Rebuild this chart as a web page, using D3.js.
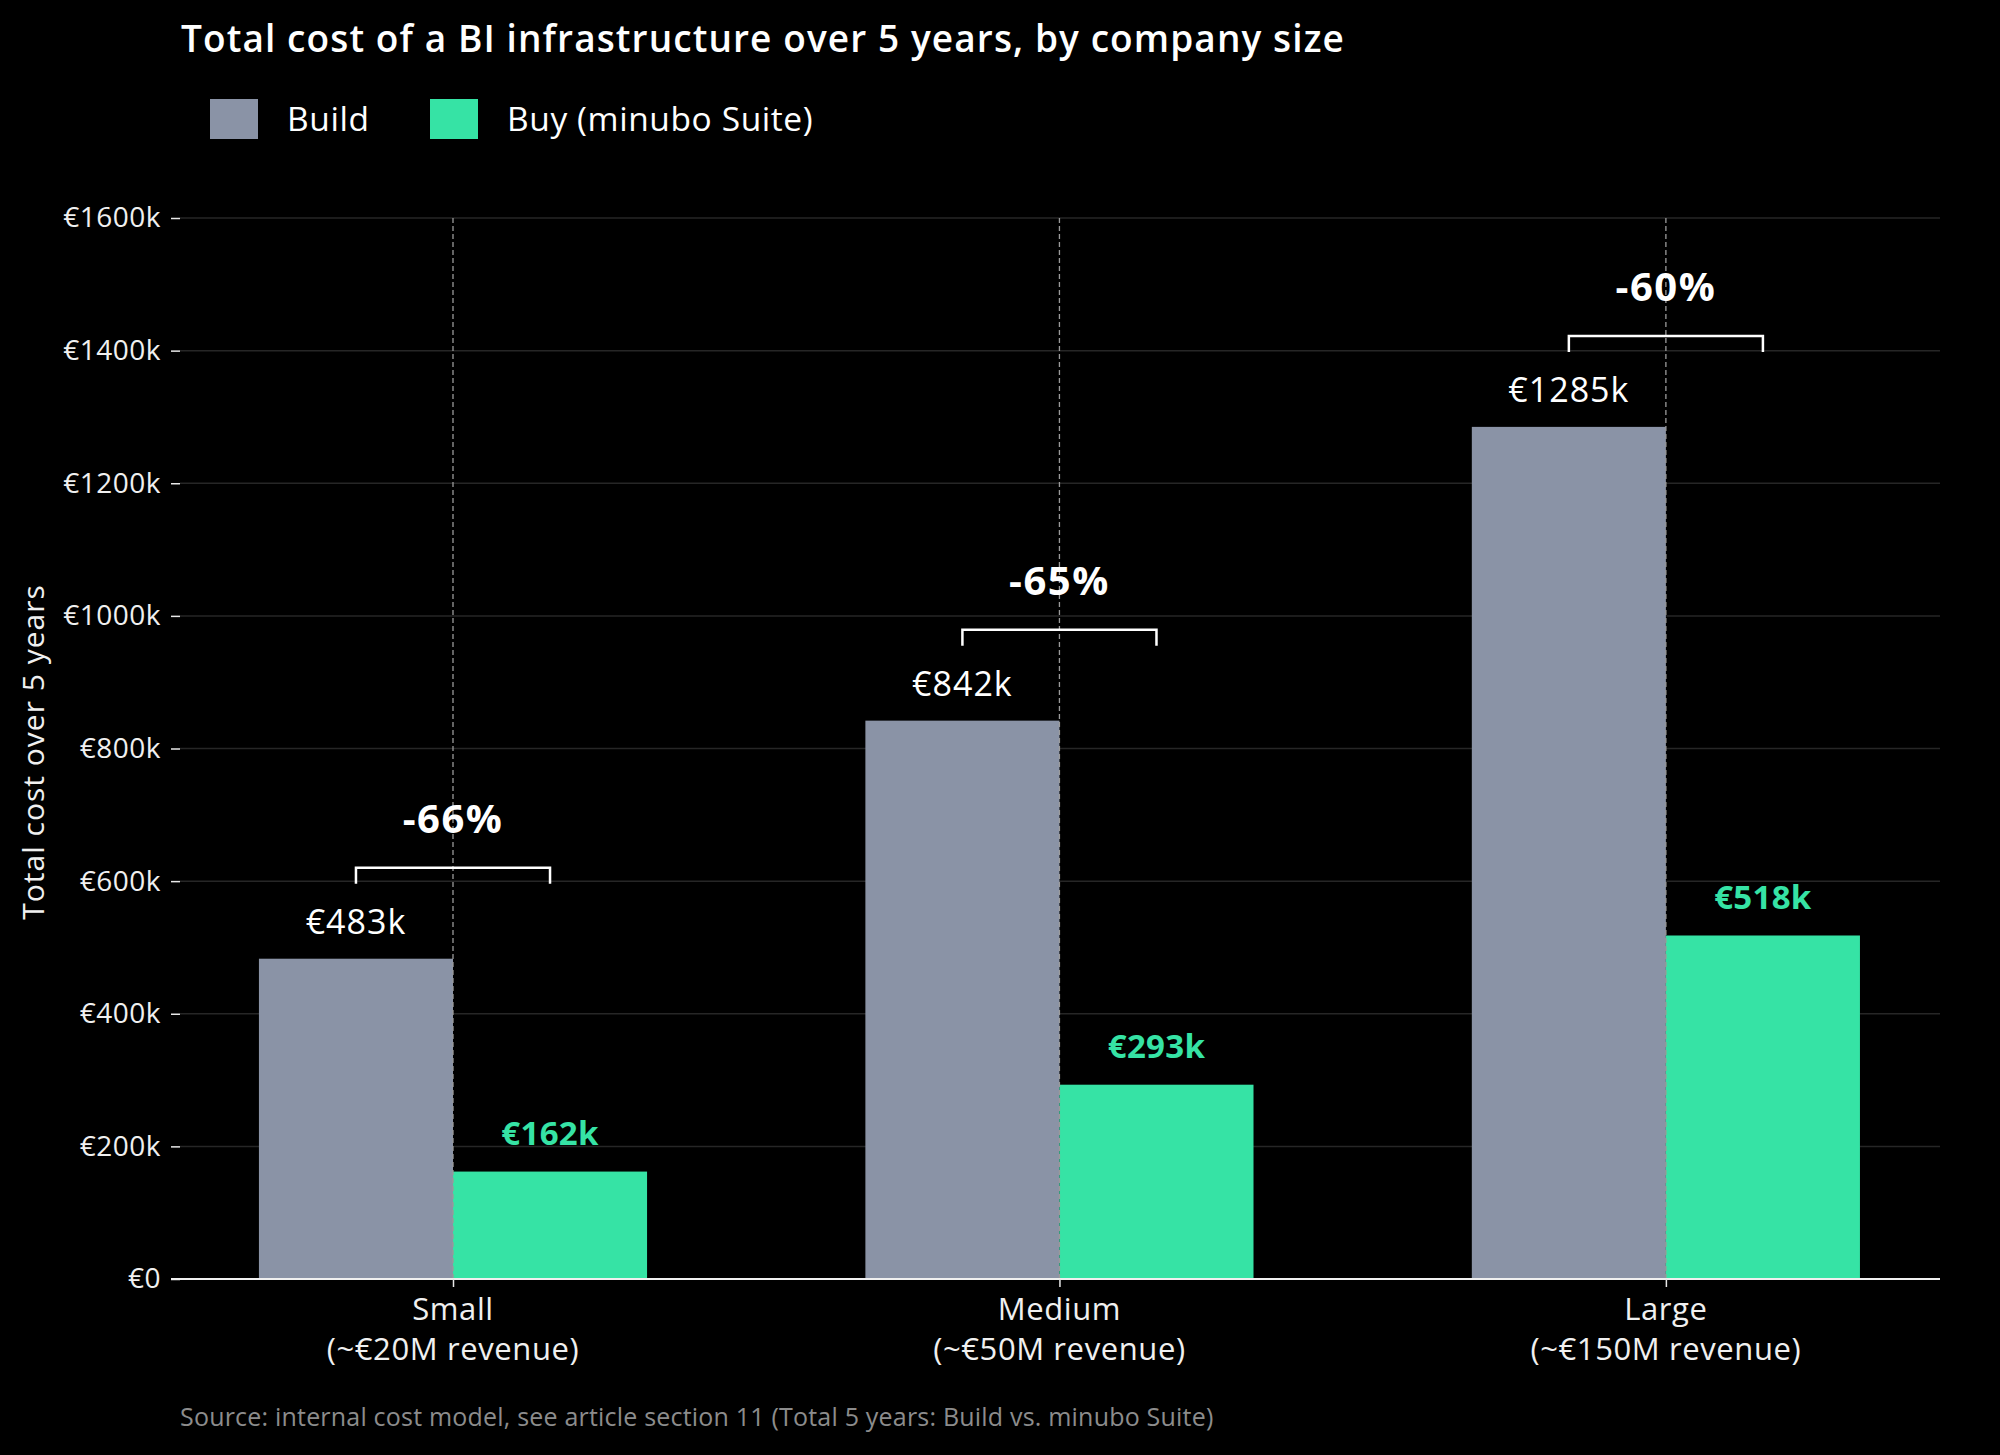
<!DOCTYPE html>
<html>
<head>
<meta charset="utf-8">
<script src="https://cdn.jsdelivr.net/npm/d3@7"></script>
<style>
  html, body { margin: 0; padding: 0; background: #000; }
  svg { display: block; font-family: "Open Sans", "DejaVu Sans", sans-serif; }
</style>
</head>
<body>
<script>
// chart data
var sizes = ["Small", "Medium", "Large"];
var sizeNotes = ["(~€20M revenue)", "(~€50M revenue)", "(~€150M revenue)"];
var buildCost = [483, 842, 1285];
var buyCost = [162, 293, 518];
var savings = ["-66%", "-65%", "-60%"];
var yTicks = [0, 200, 400, 600, 800, 1000, 1200, 1400, 1600];
var seriesNames = ["Build", "Buy (minubo Suite)"];

var width = 2000,
    height = 1455;

var grey = "#8a93a6",
    green = "#36e3a5";

var svg = d3.select("body")
    .append("svg")
    .attr("width", width)
    .attr("height", height);

svg.append("rect")
    .attr("width", width)
    .attr("height", height)
    .attr("fill", "#000");

var x = d3.scaleLinear()
    .domain([-0.465, 2.452])
    .range([171, 1940]);

var y = d3.scaleLinear()
    .domain([0, 1600])
    .range([1279, 218]);

var barW = 0.32;

// grid
svg.append("g")
    .selectAll("line")
    .data(yTicks.slice(1))
    .enter()
    .append("line")
    .attr("x1", 180)
    .attr("x2", 1940)
    .attr("y1", d => y(d))
    .attr("y2", d => y(d))
    .attr("stroke", "#262626")
    .attr("stroke-width", 1.5);

// y axis
var yAxis = svg.append("g")
    .attr("transform", "translate(180,0)")
    .call(d3.axisLeft(y)
        .tickValues(yTicks)
        .tickSize(9)
        .tickPadding(10)
        .tickFormat(d => d == 0 ? "€0" : "€" + d + "k"));
yAxis.select(".domain").remove();
yAxis.selectAll(".tick line").attr("stroke", "#e8e8e8").attr("stroke-width", 1.5);
yAxis.selectAll(".tick text")
    .attr("fill", "#f0f0f0")
    .style("font-size", "28px")
    .style("letter-spacing", "0.5px")
    .style("font-family", "'Open Sans', sans-serif");

// bars
var groups = svg.append("g")
    .selectAll("g")
    .data(sizes)
    .enter()
    .append("g");

groups.append("rect")
    .attr("x", (d, i) => x(i - barW))
    .attr("y", (d, i) => y(buildCost[i]))
    .attr("width", (d, i) => x(i) - x(i - barW))
    .attr("height", (d, i) => y(0) - y(buildCost[i]))
    .attr("fill", grey);

groups.append("rect")
    .attr("x", (d, i) => x(i))
    .attr("y", (d, i) => y(buyCost[i]))
    .attr("width", (d, i) => x(i + barW) - x(i))
    .attr("height", (d, i) => y(0) - y(buyCost[i]))
    .attr("fill", green);

// dashed centre lines
groups.append("line")
    .attr("x1", (d, i) => x(i))
    .attr("x2", (d, i) => x(i))
    .attr("y1", y(1600))
    .attr("y2", y(0))
    .attr("stroke", "#9a9a9a")
    .attr("stroke-width", 1.3)
    .attr("stroke-dasharray", "5,3");

// value labels
groups.append("text")
    .attr("x", (d, i) => x(i - barW / 2))
    .attr("y", (d, i) => y(buildCost[i]) - 25)
    .attr("text-anchor", "middle")
    .attr("fill", "#fff")
    .style("font-size", "34px")
    .style("letter-spacing", "1px")
    .text((d, i) => "€" + buildCost[i] + "k");

groups.append("text")
    .attr("x", (d, i) => x(i + barW / 2))
    .attr("y", (d, i) => y(buyCost[i]) - 27)
    .attr("text-anchor", "middle")
    .attr("fill", green)
    .style("font-size", "33px")
    .style("font-weight", "700")
    .style("letter-spacing", "0.3px")
    .text((d, i) => "€" + buyCost[i] + "k");

// savings brackets
groups.append("path")
    .attr("d", function(d, i) {
        var top = y(buildCost[i]) - 91,
            leg = y(buildCost[i]) - 75;
        return "M" + x(i - barW / 2) + "," + leg + "V" + top + "H" + x(i + barW / 2) + "V" + leg;
    })
    .attr("fill", "none")
    .attr("stroke", "#fff")
    .attr("stroke-width", 2.5);

groups.append("text")
    .attr("x", (d, i) => x(i))
    .attr("y", (d, i) => y(buildCost[i]) - 126)
    .attr("text-anchor", "middle")
    .attr("fill", "#fff")
    .style("font-size", "40px")
    .style("font-weight", "700")
    .style("letter-spacing", "1.5px")
    .text((d, i) => savings[i]);

// x axis
svg.append("line")
    .attr("x1", 171)
    .attr("x2", 1940)
    .attr("y1", y(0))
    .attr("y2", y(0))
    .attr("stroke", "#f0f0f0")
    .attr("stroke-width", 2);

var xAxis = svg.append("g")
    .attr("transform", "translate(0," + y(0) + ")")
    .call(d3.axisBottom(x)
        .tickValues([0, 1, 2])
        .tickSize(8)
        .tickFormat(""));
xAxis.select(".domain").remove();
xAxis.selectAll(".tick line").attr("stroke", "#e8e8e8").attr("stroke-width", 1.5);

var xLabels = svg.append("g")
    .selectAll("text")
    .data(sizes)
    .enter()
    .append("text")
    .attr("text-anchor", "middle")
    .attr("fill", "#f0f0f0")
    .style("font-size", "31px")
    .style("letter-spacing", "0.6px");
xLabels.append("tspan")
    .attr("x", (d, i) => x(i))
    .attr("y", 1320)
    .text(d => d);
xLabels.append("tspan")
    .attr("x", (d, i) => x(i))
    .attr("y", 1360)
    .text((d, i) => sizeNotes[i]);

// y axis title
svg.append("text")
    .attr("transform", "translate(44,752) rotate(-90)")
    .attr("text-anchor", "middle")
    .attr("fill", "#f0f0f0")
    .style("font-size", "30px")
    .style("letter-spacing", "1px")
    .text("Total cost over 5 years");

// title
svg.append("text")
    .attr("x", 181)
    .attr("y", 52)
    .attr("fill", "#fff")
    .style("font-size", "37px")
    .style("font-weight", "600")
    .style("letter-spacing", "1.1px")
    .text("Total cost of a BI infrastructure over 5 years, by company size");

// legend
var legendX = [210, 430];
var legend = svg.append("g")
    .selectAll("g")
    .data(seriesNames)
    .enter()
    .append("g");
legend.append("rect")
    .attr("x", (d, i) => legendX[i])
    .attr("y", 99)
    .attr("width", 48)
    .attr("height", 40)
    .attr("fill", (d, i) => i == 0 ? grey : green);
legend.append("text")
    .attr("x", (d, i) => legendX[i] + 77)
    .attr("y", 131)
    .attr("fill", "#fff")
    .style("font-size", "33.5px")
    .style("letter-spacing", "0.6px")
    .text(d => d);

// source
svg.append("text")
    .attr("x", 180)
    .attr("y", 1426)
    .attr("fill", "#8c8c8c")
    .style("font-size", "25px")
    .style("letter-spacing", "0.2px")
    .text("Source: internal cost model, see article section 11 (Total 5 years: Build vs. minubo Suite)");
</script>
</body>
</html>
